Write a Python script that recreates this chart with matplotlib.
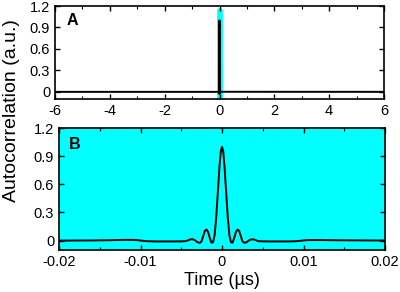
import matplotlib
matplotlib.use("Agg")
import matplotlib.pyplot as plt
from matplotlib.ticker import MultipleLocator, FuncFormatter

plt.rcParams['font.family'] = ['Liberation Sans', 'DejaVu Sans']

# Autocorrelation samples (time in µs)
t_us = [-0.020, -0.018, -0.016, -0.014, -0.013, -0.012, -0.011, -0.0105, -0.010, -0.0095,
        -0.009, -0.008, -0.007, -0.006, -0.005, -0.0045, -0.0042, -0.0039, -0.0036, -0.0033,
        -0.0030, -0.0027, -0.0025, -0.0023, -0.0021, -0.0019, -0.0017, -0.0015, -0.0013,
        -0.0011, -0.0009, -0.0007, -0.0005, -0.0003, -0.00015, 0.0,
        0.00015, 0.0003, 0.0005, 0.0007, 0.0009, 0.0011, 0.0013, 0.0015, 0.0017, 0.0019,
        0.0021, 0.0023, 0.0025, 0.0027, 0.0030, 0.0033, 0.0036, 0.0039, 0.0042, 0.0045,
        0.005, 0.006, 0.007, 0.008, 0.009, 0.0095, 0.010, 0.0105, 0.011, 0.012,
        0.013, 0.014, 0.016, 0.018, 0.020]
acf = [0.000, 0.001, 0.002, 0.004, 0.006, 0.008, 0.008, 0.006, 0.001, -0.004,
       -0.007, -0.009, -0.009, -0.009, -0.008, -0.006, 0.002, 0.013, 0.015, 0.002,
       -0.018, -0.024, -0.005, 0.050, 0.105, 0.118, 0.090, 0.030, -0.022,
       -0.018, 0.060, 0.260, 0.530, 0.800, 0.950, 1.000,
       0.950, 0.800, 0.530, 0.260, 0.060, -0.018, -0.022, 0.030, 0.090, 0.118,
       0.105, 0.050, -0.005, -0.024, -0.018, 0.002, 0.013, 0.013, 0.002, -0.006,
       -0.008, -0.009, -0.009, -0.009, -0.007, -0.003, 0.002, 0.005, 0.006, 0.006,
       0.005, 0.004, 0.003, 0.002, 0.001]

# Full-range baseline for panel A
t_wide_left = [-6.0]
t_wide_right = [6.0]
zoom_window = [-0.02, 0.02]
zoom_top = 1.15

cyan = '#00ffff'

fig = plt.figure(figsize=(4.0, 2.92), dpi=100)
axA = fig.add_axes([55/400, 1-99/292, 329/400, 93/292])
axB = fig.add_axes([59/400, 1-250/292, 326/400, 122/292])

def yfmt(v, pos):
    return '0' if abs(v) < 1e-9 else f'{v:.1f}'

# Panel A
axA.fill_betweenx([-0.1, zoom_top], zoom_window[0], zoom_window[1], color=cyan, lw=3.5, edgecolor=cyan, zorder=1)
axA.plot(t_wide_left + t_us + t_wide_right, [0.0] + acf + [0.0], color='black', lw=1.4, zorder=2)
axA.set_xlim(-6, 6)
axA.set_ylim(-0.1, 1.2)
axA.xaxis.set_major_locator(MultipleLocator(2))
axA.xaxis.set_minor_locator(MultipleLocator(1))
axA.yaxis.set_major_locator(MultipleLocator(0.3))
axA.yaxis.set_major_formatter(FuncFormatter(yfmt))
axA.xaxis.set_major_formatter(FuncFormatter(lambda v, p: f'{int(round(v))}'))
axA.text(0.035, 0.93, 'A', transform=axA.transAxes, fontsize=11.5, fontweight='bold', va='top', ha='left')

# Panel B
axB.set_facecolor(cyan)
axB.plot(t_us, acf, color='black', lw=1.4)
axB.set_xlim(-0.02, 0.02)
axB.set_ylim(-0.1, 1.2)
axB.xaxis.set_major_locator(MultipleLocator(0.01))
axB.xaxis.set_minor_locator(MultipleLocator(0.005))
axB.yaxis.set_major_locator(MultipleLocator(0.3))
axB.yaxis.set_major_formatter(FuncFormatter(yfmt))
axB.xaxis.set_major_formatter(FuncFormatter(lambda v, p: '0' if abs(v) < 1e-9 else f'{v:.2f}'))
axB.text(0.03, 0.93, 'B', transform=axB.transAxes, fontsize=11.5, fontweight='bold', va='top', ha='left')
axB.set_xlabel('Time (µs)', fontsize=13, labelpad=2)

for ax in (axA, axB):
    ax.tick_params(which='both', direction='in', top=True, right=True, labelsize=10.5, pad=3.5)
    ax.tick_params(which='major', length=3.5, width=1)
    ax.tick_params(which='minor', length=2, width=0.8)
    for s in ax.spines.values():
        s.set_linewidth(1.2)

fig.text(12/400, 1-111/292, 'Autocorrelation (a.u.)', rotation=90, fontsize=14, ha='center', va='center')

fig.savefig('out.png', dpi=100)
